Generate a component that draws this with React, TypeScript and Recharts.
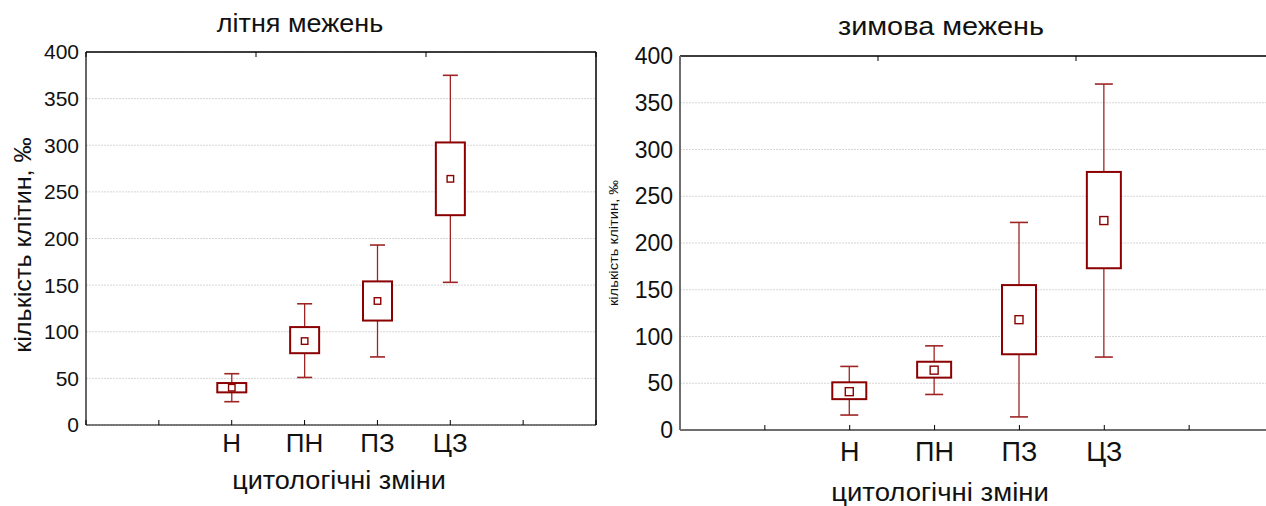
import { ComposedChart, Bar, XAxis, YAxis, CartesianGrid } from 'recharts'

// categories and their slot on the 0..7 x axis
const categories = ['Н', 'ПН', 'ПЗ', 'ЦЗ']
const catPos = [2, 3, 4, 5]
const xTicks = [0, 1, 2, 3, 4, 5, 6, 7]
const yTicks = [0, 50, 100, 150, 200, 250, 300, 350, 400]

// літня межень
const summerMin = [25, 51, 73, 153]
const summerQ1 = [35, 77, 112, 225]
const summerQ3 = [45, 105, 154, 303]
const summerMax = [55, 130, 193, 375]
const summerMean = [40, 90, 133, 264]

// зимова межень
const winterMin = [16, 38, 14, 78]
const winterQ1 = [33, 56, 81, 173]
const winterQ3 = [51, 73, 155, 276]
const winterMax = [68, 90, 222, 370]
const winterMean = [41, 64, 118, 224]

const FONT = '"Liberation Sans", Arial, sans-serif'
const BOX = '#8b0000'
const WHISKER = '#9e2424'

const makeRows = (mn: number[], q1: number[], q3: number[], mx: number[], mean: number[]) =>
  categories.map((name, i) => ({
    name,
    x: catPos[i],
    min: mn[i],
    q1: q1[i],
    q3: q3[i],
    max: mx[i],
    mean: mean[i],
  }))

const summerData = makeRows(summerMin, summerQ1, summerQ3, summerMax, summerMean)
const winterData = makeRows(winterMin, winterQ1, winterQ3, winterMax, winterMean)

const catLabel = (v: number) => {
  const i = catPos.indexOf(v)
  return i >= 0 ? categories[i] : ''
}

function BoxShape(props: any) {
  const { x, y, width, height, payload, cap, mark } = props
  if (!payload) return null
  const top = Math.min(y, y + height)
  const bottom = Math.max(y, y + height)
  const k = (bottom - top) / (payload.max - payload.min)
  const py = (v: number) => top + (payload.max - v) * k
  const cx = x + width / 2
  return (
    <g>
      <line x1={cx} x2={cx} y1={py(payload.max)} y2={py(payload.min)} stroke={WHISKER} strokeWidth={1.3} />
      <line x1={cx - cap / 2} x2={cx + cap / 2} y1={py(payload.max)} y2={py(payload.max)} stroke={WHISKER} strokeWidth={1.6} />
      <line x1={cx - cap / 2} x2={cx + cap / 2} y1={py(payload.min)} y2={py(payload.min)} stroke={WHISKER} strokeWidth={1.6} />
      <rect x={x} y={py(payload.q3)} width={width} height={py(payload.q1) - py(payload.q3)} fill="#fff" stroke={BOX} strokeWidth={2} />
      <rect x={cx - mark / 2} y={py(payload.mean) - mark / 2} width={mark} height={mark} fill="#fff" stroke={BOX} strokeWidth={1.4} />
    </g>
  )
}

interface PanelProps {
  data: any[]
  width: number
  height: number
  margin: { top: number, right: number, bottom: number, left: number }
  boxWidth: number
  cap: number
  mark: number
  tickFont: number
  catFont: number
  catMargin: number
  axisColor: string
  axisWidth: number
}

const Panel = (p: PanelProps) => (
  <ComposedChart width={p.width} height={p.height} data={p.data} margin={p.margin}>
    <CartesianGrid vertical={false} stroke="#d6d6d6" strokeDasharray="2 1" yAxisId="v" />
    <XAxis dataKey="x" type="number" domain={[0, 7]} ticks={xTicks} height={30}
      tickFormatter={catLabel} tickSize={-5} tickMargin={p.catMargin}
      axisLine={{ stroke: p.axisColor, strokeWidth: p.axisWidth }} tickLine={{ stroke: '#000' }}
      tick={{ fill: '#111', fontSize: p.catFont, fontFamily: FONT }} interval={0} />
    <XAxis xAxisId="top" orientation="top" type="number" domain={[0, 7]} ticks={xTicks} height={1}
      tickFormatter={() => ''} tickSize={-5} axisLine={{ stroke: '#000', strokeWidth: 1.5 }}
      tickLine={{ stroke: '#000' }} interval={0} />
    <YAxis yAxisId="v" type="number" domain={[0, 400]} ticks={yTicks} width={60} interval={0}
      tickLine={false} tickSize={0} tickMargin={7}
      axisLine={{ stroke: p.axisColor, strokeWidth: p.axisWidth }}
      tick={{ fill: '#111', fontSize: p.tickFont, fontFamily: FONT }} />
    <YAxis yAxisId="r" orientation="right" type="number" domain={[0, 400]} width={1}
      tick={false} axisLine={{ stroke: '#000', strokeWidth: 1.5 }} />
    <Bar yAxisId="v" dataKey={(d: any) => [d.min, d.max]} barSize={p.boxWidth} isAnimationActive={false}
      shape={(s: any) => <BoxShape {...s} cap={p.cap} mark={p.mark} />} />
  </ComposedChart>
)

export default function App() {
  return (
    <div style={{ position: 'fixed', left: 0, top: 0, width: 1266, height: 506, overflow: 'hidden', background: '#fff' }}>
      <div style={{ position: 'absolute', left: 0, top: 0 }}>
        <Panel data={summerData} width={600} height={506}
          margin={{ top: 51, right: 3, bottom: 51, left: 26 }}
          boxWidth={29} cap={15} mark={6.5} tickFont={21} catFont={26} catMargin={14}
          axisColor="#000" axisWidth={1.2} />
      </div>
      <div style={{ position: 'absolute', left: 600, top: 0 }}>
        <Panel data={winterData} width={680} height={506}
          margin={{ top: 55, right: 5, bottom: 46, left: 20 }}
          boxWidth={34} cap={18} mark={8} tickFont={23} catFont={27} catMargin={17}
          axisColor="#6e6e6e" axisWidth={2} />
      </div>
      <svg width={1266} height={506} style={{ position: 'absolute', left: 0, top: 0, pointerEvents: 'none' }}
        fontFamily={FONT} fill="#111">
        <text fontSize={25} textAnchor="middle" transform="translate(300 32) scale(1.08 1)">літня межень</text>
        <text fontSize={26} textAnchor="middle" transform="translate(339 489) scale(1.04 1)">цитологічні зміни</text>
        <text fontSize={24} textAnchor="middle" transform="translate(31 245) rotate(-90) scale(1.05 1)">кількість клітин, ‰</text>
        <text fontSize={26} textAnchor="middle" transform="translate(941 35) scale(1.11 1)">зимова межень</text>
        <text fontSize={26} textAnchor="middle" transform="translate(940 501) scale(1.06 1)">цитологічні зміни</text>
        <text fontSize={12} textAnchor="middle" transform="translate(618 243) rotate(-90) scale(1.23 1)">кількість клітин, ‰</text>
      </svg>
    </div>
  )
}
